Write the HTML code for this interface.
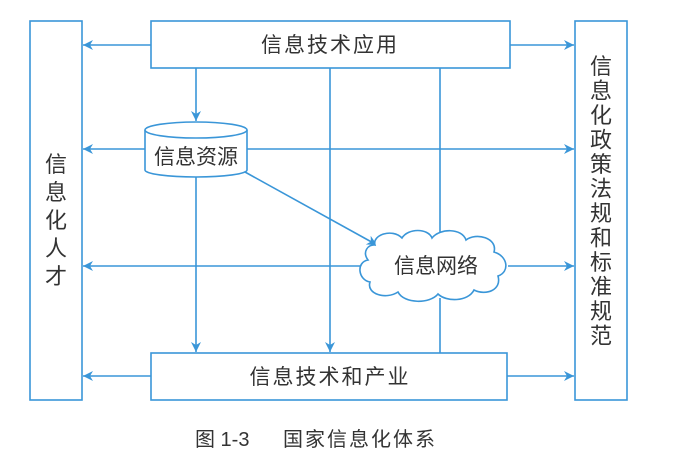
<!DOCTYPE html>
<html><head><meta charset="utf-8"><style>
html,body{margin:0;padding:0;background:#fff;}
svg{display:block;}
text{font-family:"Liberation Sans","Noto Sans CJK SC",sans-serif;fill:#333;}
</style></head><body>
<svg width="683" height="466" viewBox="0 0 683 466" xmlns="http://www.w3.org/2000/svg">
<defs>
<marker id="a" viewBox="0 0 10 10" refX="10" refY="5" markerWidth="10" markerHeight="10" markerUnits="userSpaceOnUse" orient="auto">
<path d="M0,0 L10,5 L0,10 L3,5 Z" fill="#3a96d8"/>
</marker>
</defs>
<g stroke="#3a96d8" stroke-width="1.6" fill="none">
<rect x="30" y="21" width="52" height="379"/>
<rect x="575" y="21" width="52" height="379"/>
<rect x="151" y="21" width="359" height="47" fill="#fff"/>
<rect x="151" y="353" width="356" height="47" fill="#fff"/>
<line x1="151" y1="45" x2="83" y2="45" marker-end="url(#a)"/>
<line x1="510" y1="45" x2="574" y2="45" marker-end="url(#a)"/>
<line x1="145" y1="149" x2="83" y2="149" marker-end="url(#a)"/>
<line x1="247" y1="149" x2="574" y2="149" marker-end="url(#a)"/>
<line x1="363" y1="266" x2="83" y2="266" marker-end="url(#a)"/>
<line x1="508" y1="266" x2="574" y2="266" marker-end="url(#a)"/>
<line x1="151" y1="376" x2="83" y2="376" marker-end="url(#a)"/>
<line x1="507" y1="376" x2="574" y2="376" marker-end="url(#a)"/>
<line x1="196" y1="68" x2="196" y2="121" marker-end="url(#a)"/>
<line x1="196" y1="177" x2="196" y2="352" marker-end="url(#a)"/>
<line x1="330" y1="68" x2="330" y2="352" marker-end="url(#a)"/>
<line x1="440" y1="68" x2="440" y2="236"/>
<line x1="440" y1="298" x2="440" y2="353"/>
<line x1="245" y1="172" x2="377" y2="245" marker-end="url(#a)"/>
<path d="M145,130 L145,170 A51,7 0 0 0 247,170 L247,130" fill="#fff"/>
<ellipse cx="196" cy="130" rx="51" ry="8" fill="#fff"/>
<path d="M375,245 C372,235 392,228 402,238 C408,228 428,228 432,238 C440,228 462,228 466,240 C476,232 498,238 494,252 C508,256 510,272 498,276 C502,290 486,296 474,290 C468,302 446,302 438,294 C430,304 404,304 398,292 C386,300 366,294 370,282 C358,280 356,262 368,260 C362,252 368,244 375,245 Z" fill="#fff"/>
</g>
<g font-size="21">
<text x="330" y="52" text-anchor="middle" letter-spacing="2">信息技术应用</text>
<text x="330" y="384" text-anchor="middle" letter-spacing="2">信息技术和产业</text>
<text x="196" y="164" text-anchor="middle">信息资源</text>
<text x="436" y="273" text-anchor="middle">信息网络</text>
</g>
<g font-size="22" text-anchor="middle">
<text x="56" y="172">信</text><text x="56" y="200">息</text><text x="56" y="228">化</text><text x="56" y="256">人</text><text x="56" y="284">才</text>
<text x="601" y="74">信</text><text x="601" y="98.5">息</text><text x="601" y="123">化</text><text x="601" y="147.5">政</text><text x="601" y="172">策</text><text x="601" y="196.5">法</text><text x="601" y="221">规</text><text x="601" y="245.5">和</text><text x="601" y="270">标</text><text x="601" y="294.5">准</text><text x="601" y="319">规</text><text x="601" y="343.5">范</text>
</g>
<text x="195" y="446" font-size="20">图 1-3</text>
<text x="283" y="446" font-size="20" letter-spacing="2">国家信息化体系</text>
</svg>
</body></html>
